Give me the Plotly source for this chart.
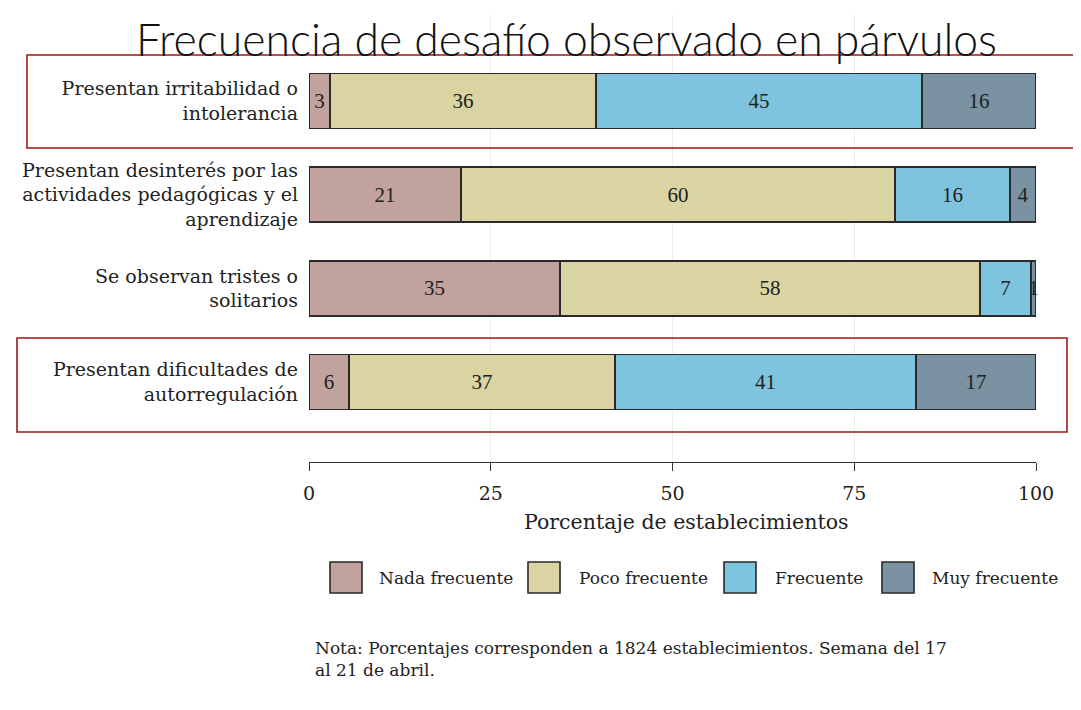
import plotly.graph_objects as go

categories = [
    "Presentan irritabilidad o<br>intolerancia",
    "Presentan desinterés por las<br>actividades pedagógicas y el<br>aprendizaje",
    "Se observan tristes o<br>solitarios",
    "Presentan dificultades de<br>autorregulación",
]
series_names = ["Nada frecuente", "Poco frecuente", "Frecuente", "Muy frecuente"]
nada = [2.9, 20.9, 34.5, 5.5]
poco = [36.6, 59.7, 57.8, 36.6]
frecuente = [44.8, 15.8, 7.0, 41.4]
muy = [15.7, 3.6, 0.7, 16.5]
labels_nada = [3, 21, 35, 6]
labels_poco = [36, 60, 58, 37]
labels_frec = [45, 16, 7, 41]
labels_muy = [16, 4, 1, 17]
colors = ["#c2a29c", "#d9d4a1", "#7fc4de", "#7a92a2"]
xticks = [0, 25, 50, 75, 100]

ypos = [3, 2, 1, 0]
times = "Liberation Serif"
wide = "DejaVu Serif"

fig = go.Figure()
for name, vals, labs, col in zip(series_names, [nada, poco, frecuente, muy],
                                 [labels_nada, labels_poco, labels_frec, labels_muy], colors):
    fig.add_trace(go.Bar(
        y=ypos, x=vals, orientation="h", name=name, width=0.59,
        marker=dict(color=col, line=dict(color="#2a2a2a", width=1.6)),
        text=[str(v) for v in labs], textposition="inside", insidetextanchor="middle",
        textangle=0, constraintext="none",
        textfont=dict(family=times, size=21, color="#222"),
        showlegend=False, cliponaxis=False,
    ))

OFF = 8
W, H = 1081 - OFF, 710 - OFF
L, R, T, B = 309 - OFF, 45, 15 - OFF, 248
pw, ph = W - L - R, H - T - B

def px(x):
    return (x - OFF - L) / pw

def py(y):
    return (H - B - (y - OFF)) / ph

shapes = []
# highlight boxes
for (x0, y0, x1, y1) in [(27, 55, 1076, 148), (17, 338, 1067, 432)]:
    shapes.append(dict(type="rect", xref="paper", yref="paper",
                       x0=px(x0), x1=px(x1), y0=py(y0), y1=py(y1),
                       line=dict(color="#a01818", width=1.6), fillcolor="rgba(0,0,0,0)"))

annotations = []
# custom legend
legend_items = [(330, 377), (528, 577), (724, 773), (882, 930)]
for (bx, tx), name, col in zip(legend_items, series_names, colors):
    shapes.append(dict(type="rect", xref="paper", yref="paper",
                       x0=px(bx), x1=px(bx + 32), y0=py(562), y1=py(593),
                       fillcolor=col, line=dict(color="#2a2a2a", width=1.6)))
    annotations.append(dict(text=name, xref="paper", yref="paper", x=px(tx), y=py(577.5),
                            xanchor="left", yanchor="middle", showarrow=False,
                            font=dict(family=wide, size=17, color="#222")))

annotations.append(dict(
    text="Nota: Porcentajes corresponden a 1824 establecimientos. Semana del 17<br>al 21 de abril.",
    xref="paper", yref="paper", x=px(313), y=py(636), xanchor="left", yanchor="top",
    align="left", showarrow=False, font=dict(family=wide, size=17, color="#222")))

annotations.append(dict(
    text="Porcentaje de establecimientos", xref="paper", yref="paper",
    x=px(686), y=py(522), xanchor="center", yanchor="middle", showarrow=False,
    font=dict(family=wide, size=20.5, color="#222")))

annotations.append(dict(
    text="Frecuencia de desafío observado en párvulos", xref="paper", yref="paper",
    x=px(566), y=py(38), xanchor="center", yanchor="middle", showarrow=False,
    font=dict(family="Lato", size=44.5, color="#111", weight=300)))

fig.update_layout(
    width=W, height=H, barmode="stack",
    margin=dict(l=L, r=R, t=T, b=B, pad=0),
    paper_bgcolor="white", plot_bgcolor="white",
    shapes=shapes, annotations=annotations,
    xaxis=dict(range=[0, 100], tickvals=xticks, ticktext=[str(t) for t in xticks],
               showline=True, linecolor="#333", linewidth=1.3,
               ticks="outside", ticklen=8, tickcolor="#333", tickwidth=1.3,
               showgrid=True, gridcolor="#e8eef5", gridwidth=1, zeroline=False,
               ticklabelstandoff=6,
               tickfont=dict(family=wide, size=19, color="#222")),
    yaxis=dict(range=[-0.854, 3.918], tickvals=ypos, ticktext=categories,
               showline=False, showgrid=False, zeroline=False, ticks="",
               ticklabelstandoff=10,
               tickfont=dict(family=wide, size=19, color="#222")),
)

fig.write_html("out.html")
